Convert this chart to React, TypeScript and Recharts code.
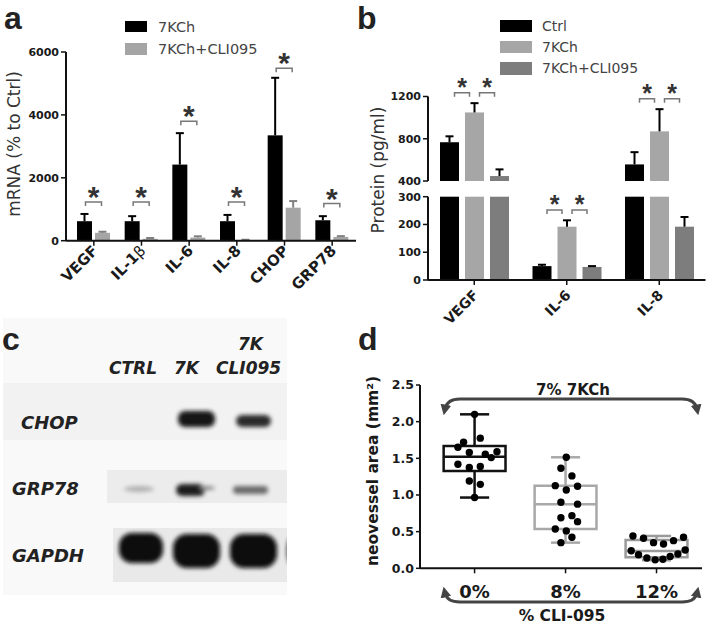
import React from "react";
import {
  BarChart,
  Bar,
  XAxis,
  YAxis,
  ComposedChart,
  Scatter,
  ReferenceArea,
  ReferenceLine,
} from "recharts";

const FONT = "'DejaVu Sans', 'Liberation Sans', Arial, sans-serif";
const ARIAL = "'Liberation Sans', Arial, sans-serif";
const AXIS = "#111";

// ---------- panel a : mRNA (% to Ctrl) ----------
const genesA = ["VEGF", "IL-1β", "IL-6", "IL-8", "CHOP", "GRP78"];
const kchA = [620, 620, 2420, 620, 3350, 650];
const kchTopA = [850, 780, 3420, 820, 5180, 780];
const cliA = [250, 60, 100, 20, 1050, 120];
const cliTopA = [285, 85, 140, 30, 1260, 145];
const sigA = [1230, 1230, 3800, 1230, 5480, 1180];
const ticksA = [0, 2000, 4000, 6000];

// ---------- panel b : Protein (pg/ml), broken axis ----------
const cytB = ["VEGF", "IL-6", "IL-8"];
const ctrlB = [767, 50, 557];
const ctrlTopB = [823, 55, 673];
const kchB = [1049, 192, 870];
const kchTopB = [1137, 215, 1080];
const cliB = [447, 47, 192];
const cliTopB = [510, 50, 227];
const sig1B = [1235, 252, 1178];
const sig2B = [1235, 252, 1178];
const upperTicksB = [400, 800, 1200];
const lowerTicksB = [0, 100, 200, 300];
const BREAK_LOW = 300;
const BREAK_HIGH = 400;

// ---------- panel d : neovessel area ----------
const doseLabels = ["0%", "8%", "12%"];
const boxMin = [0.965, 0.35, 0.11];
const boxQ1 = [1.327, 0.536, 0.15];
const boxMed = [1.52, 0.873, 0.236];
const boxQ3 = [1.668, 1.127, 0.386];
const boxMax = [2.1, 1.514, 0.441];
const ticksD = [0, 0.5, 1, 1.5, 2, 2.5];

const d0x = [1.0, 1.063, 0.879, 0.817, 0.942, 1.118, 1.183, 1.246, 0.817, 0.942, 1.063, 0.942, 1.063, 1.0];
const d0y = [2.1, 1.775, 1.72, 1.65, 1.58, 1.555, 1.51, 1.59, 1.42, 1.375, 1.39, 1.19, 1.145, 0.965];
const d8x = [2.008, 1.949, 2.07, 1.887, 2.008, 2.132, 1.949, 2.132, 1.949, 2.07, 2.132, 1.887, 2.008, 2.07, 1.949];
const d8y = [1.515, 1.365, 1.26, 1.127, 1.068, 1.12, 0.9, 0.875, 0.69, 0.718, 0.636, 0.536, 0.51, 0.423, 0.35];
const d12x = [2.741, 2.857, 2.967, 3.077, 3.187, 3.297, 2.722, 2.802, 2.894, 2.985, 3.07, 3.15, 3.235, 3.315];
const d12y = [0.441, 0.409, 0.35, 0.332, 0.377, 0.423, 0.24, 0.185, 0.14, 0.115, 0.123, 0.162, 0.195, 0.25];

// bar shape: the bar itself, an upward error bar and (optionally) a
// significance bracket to the next bar; pixel positions come from the bar geometry
type ShapeCfg = {
  vals: (number | null)[];
  tops: (number | null)[];
  sig?: (number | null)[];
  base: number;
  errColor: string;
  cap: number;
  step: number;
  half: number;
  star: number;
  starDy: number;
};

function barShape(cfg: ShapeCfg) {
  return (props: any) => {
    const { x, y, width, height, fill } = props;
    const idx = props.payload ? props.payload.i : props.index;
    const v = cfg.vals[idx];
    if (v == null || !(height > 0)) return <g />;
    const bottom = y + height;
    const ppu = height / (v - cfg.base);
    const cx = x + width / 2;
    const t = cfg.tops[idx];
    const s = cfg.sig ? cfg.sig[idx] : null;
    const ey = t != null ? bottom - (t - cfg.base) * ppu : 0;
    const by = s != null ? bottom - (s - cfg.base) * ppu : 0;
    const mid = cx + cfg.step / 2;
    return (
      <g>
        <rect x={x} y={y} width={width} height={height} fill={fill} />
        {t != null && (
          <g stroke={cfg.errColor} strokeWidth={2}>
            <line x1={cx} x2={cx} y1={y} y2={ey} />
            <line x1={cx - cfg.cap} x2={cx + cfg.cap} y1={ey} y2={ey} />
          </g>
        )}
        {s != null && (
          <g>
            <path
              d={`M${mid - cfg.half},${by + 4} V${by} H${mid + cfg.half} V${by + 4}`}
              fill="none"
              stroke="#777"
              strokeWidth={1.5}
            />
            <text
              x={mid}
              y={by + cfg.starDy}
              textAnchor="middle"
              fontFamily={ARIAL}
              fontWeight="bold"
              fontSize={cfg.star}
              fill="#333"
            >
              *
            </text>
          </g>
        )}
      </g>
    );
  };
}

function RotTick(props: any) {
  const { x, y, payload, size, dx, dy } = props;
  const label: string = String(payload.value);
  const greek = label.endsWith("β");
  const head = greek ? label.slice(0, -1) : label;
  return (
    <g transform={`translate(${x + dx},${y + dy}) rotate(-45)`}>
      <text
        textAnchor="end"
        fontFamily={FONT}
        fontWeight="bold"
        fontSize={size}
        fill="#1a1a1a"
      >
        {head}
        {greek && <tspan fontWeight="normal">β</tspan>}
      </text>
    </g>
  );
}

const tickFont = { fontSize: 11, fontWeight: "bold", fill: "#1a1a1a", fontFamily: FONT };

function PanelA() {
  const data = genesA.map((g, i) => ({ i, name: g, k: kchA[i], c: cliA[i] }));
  return (
    <div style={{ position: "absolute", left: 0, top: 0 }}>
      <BarChart
        width={360}
        height={300}
        data={data}
        margin={{ top: 52, right: 4, bottom: 0, left: 0 }}
        barSize={15}
        barGap={3}
      >
        <XAxis
          dataKey="name"
          height={59.3}
          padding={{ left: 4, right: 0 }}
          interval={0}
          axisLine={{ stroke: AXIS, strokeWidth: 2 }}
          tickLine={{ stroke: AXIS, strokeWidth: 1.5 }}
          tickSize={5}
          tick={(p: any) => <RotTick {...p} size={15} dx={5} dy={4} />}
        />
        <YAxis
          width={66}
          domain={[0, 6000]}
          ticks={ticksA}
          interval={0}
          axisLine={{ stroke: AXIS, strokeWidth: 2 }}
          tickLine={{ stroke: AXIS, strokeWidth: 1.5 }}
          tickSize={5}
          tick={tickFont}
        />
        <Bar
          dataKey="k"
          fill="#000"
          isAnimationActive={false}
          shape={barShape({
            vals: kchA, tops: kchTopA, sig: sigA, base: 0, errColor: "#000",
            cap: 4, step: 18, half: 8, star: 30, starDy: 5,
          })}
        />
        <Bar
          dataKey="c"
          fill="#a5a5a5"
          isAnimationActive={false}
          shape={barShape({
            vals: cliA, tops: cliTopA, base: 0, errColor: "#808080",
            cap: 4, step: 18, half: 8, star: 30, starDy: 5,
          })}
        />
      </BarChart>
    </div>
  );
}

function PanelB() {
  const upCtrl = ctrlB.map((v) => (v >= BREAK_HIGH ? v : null));
  const upKch = kchB.map((v) => (v >= BREAK_HIGH ? v : null));
  const upCli = cliB.map((v) => (v >= BREAK_HIGH ? v : null));
  const loCtrl = ctrlB.map((v) => Math.min(v, BREAK_LOW));
  const loKch = kchB.map((v) => Math.min(v, BREAK_LOW));
  const loCli = cliB.map((v) => Math.min(v, BREAK_LOW));
  const upper = cytB.map((c, i) => ({ i, name: c, a: upCtrl[i], b: upKch[i], c: upCli[i] }));
  const lower = cytB.map((c, i) => ({ i, name: c, a: loCtrl[i], b: loKch[i], c: loCli[i] }));
  const upTops = (vals: number[], tops: number[]) => vals.map((v, i) => (v >= BREAK_HIGH ? tops[i] : null));
  const loTops = (vals: number[], tops: number[]) => vals.map((v, i) => (v <= BREAK_LOW ? tops[i] : null));
  const upSig = (s: number[]) => s.map((v) => (v > BREAK_LOW ? v : null));
  const loSig = (s: number[]) => s.map((v) => (v <= BREAK_LOW ? v : null));
  const common = { base: 0, errColor: "#000", cap: 4, step: 25, half: 7.5, star: 25, starDy: 3 };
  const colors = ["#000", "#a6a6a6", "#7d7d7d"];
  return (
    <>
      <div style={{ position: "absolute", left: 350, top: 0 }}>
        <BarChart
          width={359}
          height={190}
          data={upper}
          margin={{ top: 96.5, right: 3.5, bottom: 9, left: 0 }}
          barSize={19}
          barGap={6}
        >
          <XAxis dataKey="name" hide />
          <YAxis
            width={78}
            domain={[BREAK_HIGH, 1200]}
            ticks={upperTicksB}
            interval={0}
            axisLine={{ stroke: AXIS, strokeWidth: 2 }}
            tickLine={{ stroke: AXIS, strokeWidth: 1.5 }}
            tickSize={5}
            tick={tickFont}
          />
          <Bar dataKey="a" fill={colors[0]} isAnimationActive={false}
            shape={barShape({ ...common, base: BREAK_HIGH, vals: upCtrl, tops: upTops(ctrlB, ctrlTopB), sig: upSig(sig1B) })} />
          <Bar dataKey="b" fill={colors[1]} isAnimationActive={false}
            shape={barShape({ ...common, base: BREAK_HIGH, vals: upKch, tops: upTops(kchB, kchTopB), sig: upSig(sig2B) })} />
          <Bar dataKey="c" fill={colors[2]} isAnimationActive={false}
            shape={barShape({ ...common, base: BREAK_HIGH, vals: upCli, tops: upTops(cliB, cliTopB) })} />
        </BarChart>
      </div>
      <div style={{ position: "absolute", left: 350, top: 185 }}>
        <BarChart
          width={359}
          height={150}
          data={lower}
          margin={{ top: 11.7, right: 3.5, bottom: 0, left: 0 }}
          barSize={19}
          barGap={6}
        >
          <XAxis
            dataKey="name"
            height={55}
            interval={0}
            axisLine={{ stroke: AXIS, strokeWidth: 2 }}
            tickLine={{ stroke: AXIS, strokeWidth: 1.5 }}
            tickSize={5}
            tick={(p: any) => <RotTick {...p} size={14} dx={5} dy={9} />}
          />
          <YAxis
            width={78}
            domain={[0, BREAK_LOW]}
            ticks={lowerTicksB}
            interval={0}
            axisLine={{ stroke: AXIS, strokeWidth: 2 }}
            tickLine={{ stroke: AXIS, strokeWidth: 1.5 }}
            tickSize={5}
            tick={tickFont}
          />
          <Bar dataKey="a" fill={colors[0]} isAnimationActive={false}
            shape={barShape({ ...common, vals: loCtrl, tops: loTops(ctrlB, ctrlTopB), sig: loSig(sig1B) })} />
          <Bar dataKey="b" fill={colors[1]} isAnimationActive={false}
            shape={barShape({ ...common, vals: loKch, tops: loTops(kchB, kchTopB), sig: loSig(sig2B) })} />
          <Bar dataKey="c" fill={colors[2]} isAnimationActive={false}
            shape={barShape({ ...common, vals: loCli, tops: loTops(cliB, cliTopB) })} />
        </BarChart>
      </div>
    </>
  );
}

function PanelD() {
  const pts = (xs: number[], ys: number[]) => xs.map((x, i) => ({ x, y: ys[i] }));
  const boxColors = ["#111", "#a8a8a8", "#9a9a9a"];
  const dot = (p: any) => <circle cx={p.cx} cy={p.cy} r={3.7} fill="#000" />;
  return (
    <div style={{ position: "absolute", left: 360, top: 360 }}>
      <ComposedChart
        width={349}
        height={265}
        margin={{ top: 25, right: 7, bottom: 0, left: 0 }}
      >
        <XAxis
          type="number"
          dataKey="x"
          domain={[0.4, 3.5]}
          ticks={[1, 2, 3]}
          interval={0}
          height={56.7}
          allowDataOverflow
          axisLine={{ stroke: AXIS, strokeWidth: 2 }}
          tickLine={{ stroke: AXIS, strokeWidth: 1.5 }}
          tickSize={5}
          tick={(p: any) => (
            <text x={p.x} y={p.y} dy={23} textAnchor="middle" fontFamily={FONT}
              fontWeight="bold" fontSize={18} fill="#1a1a1a">
              {doseLabels[Math.round(p.payload.value) - 1]}
            </text>
          )}
        />
        <YAxis
          type="number"
          dataKey="y"
          width={60}
          domain={[0, 2.5]}
          ticks={ticksD}
          interval={0}
          tickFormatter={(v: number) => v.toFixed(1)}
          axisLine={{ stroke: AXIS, strokeWidth: 2 }}
          tickLine={{ stroke: AXIS, strokeWidth: 1.5 }}
          tickSize={4}
          tick={{ ...tickFont, fontSize: 12.5 }}
        />
        {doseLabels.map((_, i) => {
          const c = i + 1;
          const col = boxColors[i];
          return (
            <React.Fragment key={i}>
              <ReferenceLine segment={[{ x: c, y: boxQ3[i] }, { x: c, y: boxMax[i] }]} stroke={col} strokeWidth={2.5} />
              <ReferenceLine segment={[{ x: c, y: boxQ1[i] }, { x: c, y: boxMin[i] }]} stroke={col} strokeWidth={2.5} />
              <ReferenceLine segment={[{ x: c - 0.16, y: boxMax[i] }, { x: c + 0.16, y: boxMax[i] }]} stroke={col} strokeWidth={2.5} />
              <ReferenceLine segment={[{ x: c - 0.16, y: boxMin[i] }, { x: c + 0.16, y: boxMin[i] }]} stroke={col} strokeWidth={2.5} />
              <ReferenceArea x1={c - 0.34} x2={c + 0.34} y1={boxQ1[i]} y2={boxQ3[i]} fill="#fff" fillOpacity={1} stroke={col} strokeWidth={2.5} />
              <ReferenceLine segment={[{ x: c - 0.34, y: boxMed[i] }, { x: c + 0.34, y: boxMed[i] }]} stroke={col} strokeWidth={2.5} />
            </React.Fragment>
          );
        })}
        <Scatter data={pts(d0x, d0y)} shape={dot} isAnimationActive={false} />
        <Scatter data={pts(d8x, d8y)} shape={dot} isAnimationActive={false} />
        <Scatter data={pts(d12x, d12y)} shape={dot} isAnimationActive={false} />
      </ComposedChart>
    </div>
  );
}

function Overlay() {
  const letter = { fontFamily: ARIAL, fontWeight: "bold" as const, fontSize: 32, fill: "#222" };
  const blot = { fontFamily: FONT, fontWeight: "bold" as const, fontStyle: "italic" as const, fill: "#222" };
  return (
    <svg width={709} height={625} style={{ position: "absolute", left: 0, top: 0, pointerEvents: "none" }}>
      <defs>
        <filter id="blur" x="-30%" y="-60%" width="160%" height="220%">
          <feGaussianBlur stdDeviation="2" />
        </filter>
        <clipPath id="blotClip">
          <rect x={3} y={318} width={284} height={277} />
        </clipPath>
        <marker id="ah" viewBox="0 0 10 10" refX="4" refY="5" markerWidth="3.6" markerHeight="3.6" orient="auto-start-reverse">
          <path d="M0,0 L10,5 L0,10 z" fill="#444" />
        </marker>
      </defs>

      {/* panel c : western blot */}
      <rect x={3} y={318} width={284} height={277} fill="#f9f9f9" />
      <rect x={3} y={383} width={284} height={57} fill="#f2f2f2" />
      <rect x={107} y={470} width={180} height={33} fill="#ececec" />
      <rect x={113} y={528} width={174} height={54} fill="#e9e9e9" />
      <g clipPath="url(#blotClip)" filter="url(#blur)">
        <rect x={178} y={411} width={37} height={16} rx={7} fill="#141414" />
        <rect x={236} y={415} width={35} height={12} rx={6} fill="#2c2c2c" />
        <ellipse cx={139} cy={489} rx={15} ry={3} fill="#b0b0b0" />
        <rect x={176} y={484} width={29} height={12} rx={6} fill="#1a1a1a" />
        <ellipse cx={207} cy={488} rx={8} ry={2} fill="#888" />
        <rect x={233} y={486} width={35} height={8} rx={4} fill="#6a6a6a" />
        <rect x={119} y={533} width={44} height={30} rx={13} fill="#080808" />
        <rect x={173} y={534} width={47} height={34} rx={14} fill="#080808" />
        <rect x={230} y={534} width={47} height={34} rx={14} fill="#080808" />
        <ellipse cx={292} cy={551} rx={5} ry={14} fill="#222" />
      </g>
      <text x={238} y={350} fontSize={17} {...blot}>7K</text>
      <text x={109} y={374} fontSize={17} {...blot}>CTRL</text>
      <text x={174} y={374} fontSize={17} {...blot}>7K</text>
      <text x={216} y={374} fontSize={17} {...blot}>CLI095</text>
      <text x={21} y={429} fontSize={18} {...blot}>CHOP</text>
      <text x={12} y={495} fontSize={18} {...blot}>GRP78</text>
      <text x={12} y={562} fontSize={18} {...blot}>GAPDH</text>

      {/* panel letters */}
      <text x={4} y={29} {...letter}>a</text>
      <text x={357} y={29} {...letter}>b</text>
      <text x={2} y={350} {...letter}>c</text>
      <text x={358} y={350} {...letter}>d</text>

      {/* legend a */}
      <rect x={125} y={21} width={22} height={11} fill="#000" />
      <rect x={125} y={43} width={22} height={12} fill="#a5a5a5" />
      <text x={158} y={32} fontFamily={FONT} fontSize={14.5} fill="#444">7KCh</text>
      <text x={158} y={54} fontFamily={FONT} fontSize={14.5} fill="#444">7KCh+CLI095</text>

      {/* legend b */}
      <rect x={500} y={20} width={32} height={12} fill="#000" />
      <rect x={500} y={41} width={32} height={12} fill="#a6a6a6" />
      <rect x={500} y={62} width={32} height={13} fill="#7d7d7d" />
      <text x={542} y={31} fontFamily={FONT} fontSize={14} fill="#444">Ctrl</text>
      <text x={542} y={52} fontFamily={FONT} fontSize={14} fill="#444">7KCh</text>
      <text x={542} y={73} fontFamily={FONT} fontSize={14} fill="#444">7KCh+CLI095</text>

      {/* axis titles */}
      <text transform="translate(14,144) rotate(-90)" textAnchor="middle" dominantBaseline="central"
        fontFamily={FONT} fontSize={17} fill="#333">mRNA (% to Ctrl)</text>
      <text transform="translate(378,170) rotate(-90)" textAnchor="middle" dominantBaseline="central"
        fontFamily={FONT} fontSize={17} fill="#333">Protein (pg/ml)</text>
      <text transform="translate(373,471) rotate(-90)" textAnchor="middle" dominantBaseline="central"
        fontFamily={FONT} fontWeight="bold" fontSize={15.5} fill="#1a1a1a">neovessel area (mm²)</text>

      {/* panel d annotations */}
      <text x={573} y={395} textAnchor="middle" fontFamily={FONT} fontWeight="bold" fontSize={15} fill="#1a1a1a">7% 7KCh</text>
      <path d="M445,409 Q447,399 460,399 L682,399 Q695,399 697,409" fill="none" stroke="#444" strokeWidth={3}
        markerStart="url(#ah)" markerEnd="url(#ah)" />
      <path d="M445,593 Q447,602 460,602 L682,602 Q695,602 697,593" fill="none" stroke="#444" strokeWidth={3}
        markerStart="url(#ah)" markerEnd="url(#ah)" />
      <text x={562} y={621} textAnchor="middle" fontFamily={FONT} fontWeight="bold" fontSize={15.5} fill="#1a1a1a">% CLI-095</text>
    </svg>
  );
}

export default function App() {
  return (
    <div style={{ position: "absolute", left: 0, top: 0, width: 709, height: 625, background: "#fff", overflow: "hidden" }}>
      <PanelA />
      <PanelB />
      <PanelD />
      <Overlay />
    </div>
  );
}
